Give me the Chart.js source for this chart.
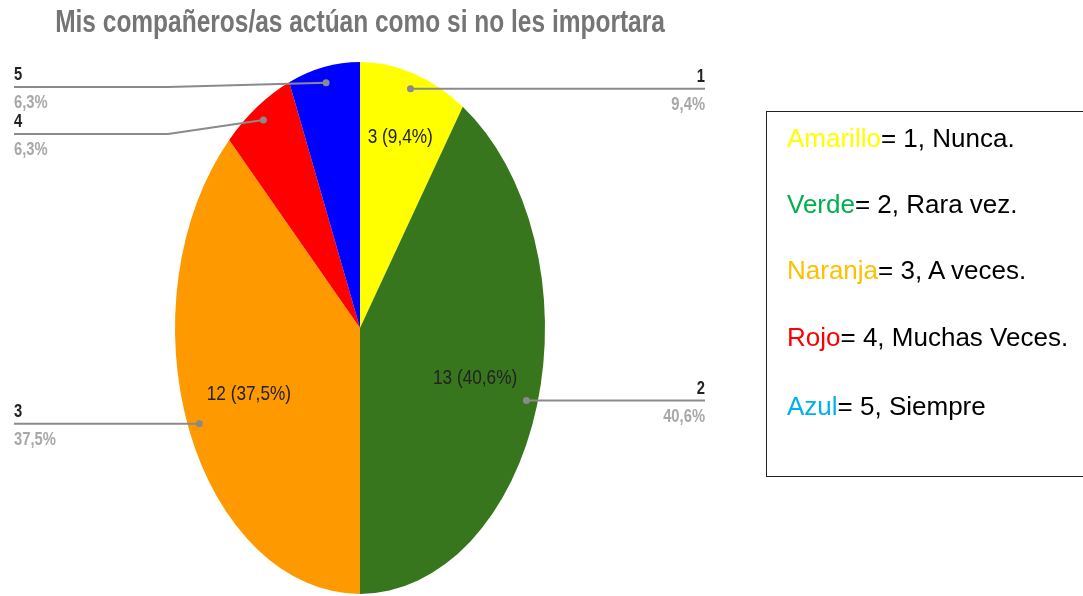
<!DOCTYPE html>
<html>
<head>
<meta charset="utf-8">
<script src="https://cdn.jsdelivr.net/npm/chart.js@4.4.0/dist/chart.umd.min.js"></script>
<style>
  body { margin: 0; background: #fff; overflow: hidden; }
  #wrap { position: absolute; left: 0; top: 0; width: 1083px; height: 596px; }
  #title {
    position: absolute; left: -100px; width: 920px; top: 4px; text-align: center;
    font-family: 'Liberation Sans', Arial, sans-serif;
    font-weight: bold; font-size: 31px; color: #757575;
    transform: scaleX(0.79); transform-origin: 460px 0; white-space: nowrap;
  }
  #legend {
    position: absolute; left: 766px; top: 111px; width: 330px; height: 366px;
    border: 1.5px solid #222; box-sizing: border-box;
    font-family: 'Liberation Sans', Arial, sans-serif; font-size: 26px; color: #000;
  }
  #legend div { position: absolute; left: 20px; white-space: nowrap; }
</style>
</head>
<body>
<div id="wrap"><canvas id="pie"></canvas></div>
<div id="title">Mis compañeros/as actúan como si no les importara</div>
<div id="legend">
  <div style="top:11px"><span style="color:#ffff00">Amarillo</span>= 1, Nunca.</div>
  <div style="top:77px"><span style="color:#00b050">Verde</span>= 2, Rara vez.</div>
  <div style="top:143px"><span style="color:#ffc000">Naranja</span>= 3, A veces.</div>
  <div style="top:210px"><span style="color:#ff0000">Rojo</span>= 4, Muchas Veces.</div>
  <div style="top:279px"><span style="color:#00b0f0">Azul</span>= 5, Siempre</div>
</div>
<script>
// Datos de la encuesta
const categorias = ['1', '2', '3', '4', '5'];
const respuestas = [3, 13, 12, 2, 2];
const colores = ['#ffff00', '#38761d', '#ff9900', '#ff0000', '#0000ff'];

const fuente = "'Liberation Sans', Arial, sans-serif";
const escalaX = 185 / 266; // la torta original está estirada verticalmente
const estrecho = 0.82;     // simula una fuente condensada

function formatoPct(v, total) {
    return (v / total * 100).toFixed(1).replace('.', ',') + '%';
}

// Escribe texto comprimido horizontalmente
function textoEstrecho(ctx, txt, x, y) {
    ctx.save();
    ctx.translate(x, y);
    ctx.scale(estrecho, 1);
    ctx.fillText(txt, 0, 0);
    ctx.restore();
}

// Aplana la torta horizontalmente
const elipse = {
    id: 'elipse',
    beforeDatasetsDraw(chart) {
        const ctx = chart.ctx;
        const cx = (chart.chartArea.left + chart.chartArea.right) / 2;
        ctx.save();
        ctx.translate(cx, 0);
        ctx.scale(escalaX, 1);
        ctx.translate(-cx, 0);
    },
    afterDatasetsDraw(chart) {
        chart.ctx.restore();
    }
};

// Etiquetas internas y líneas guía
const etiquetas = {
    id: 'etiquetas',
    afterDraw(chart, args, opts) {
        const ctx = chart.ctx;
        const meta = chart.getDatasetMeta(0);
        const total = respuestas.reduce((a, b) => a + b, 0);
        meta.data.forEach((arc, i) => {
            const p = arc.getProps(['x', 'y', 'startAngle', 'endAngle', 'outerRadius'], true);
            const rx = p.outerRadius * escalaX, ry = p.outerRadius;
            const mid = (p.startAngle + p.endAngle) / 2;
            const frac = respuestas[i] / total;

            // texto dentro del sector
            if (frac > 0.08) {
                const f = frac < 0.15 ? 0.75 : 0.65;
                const tx = p.x + Math.cos(mid) * rx * f;
                const ty = p.y + Math.sin(mid) * ry * f;
                ctx.save();
                ctx.font = '21px ' + fuente;
                ctx.fillStyle = '#222';
                ctx.textAlign = 'center';
                ctx.textBaseline = 'middle';
                textoEstrecho(ctx, respuestas[i] + ' (' + formatoPct(respuestas[i], total) + ')', tx, ty);
                ctx.restore();
            }

            // línea guía
            const g = opts.guias[i];
            const dx = p.x + Math.cos(mid) * rx * 0.94;
            const dy = p.y + Math.sin(mid) * ry * 0.94;
            const lineY = g.y !== undefined ? g.y : dy;
            const endX = g.lado === 'der' ? opts.derX : opts.izqX;

            ctx.save();
            ctx.strokeStyle = '#8a8a8a';
            ctx.fillStyle = '#8a8a8a';
            ctx.lineWidth = 2;
            ctx.beginPath();
            ctx.moveTo(dx, dy);
            if (g.y !== undefined) ctx.lineTo(opts.codoX, lineY);
            ctx.lineTo(endX, lineY);
            ctx.stroke();
            ctx.beginPath();
            ctx.arc(dx, dy, 3.5, 0, Math.PI * 2);
            ctx.fill();

            ctx.textAlign = g.lado === 'der' ? 'right' : 'left';
            ctx.textBaseline = 'alphabetic';
            ctx.font = 'bold 18px ' + fuente;
            ctx.fillStyle = '#222';
            textoEstrecho(ctx, categorias[i], endX, lineY - 7);
            ctx.font = 'bold 18px ' + fuente;
            ctx.fillStyle = '#a8a8a8';
            textoEstrecho(ctx, formatoPct(respuestas[i], total), endX, lineY + 21);
            ctx.restore();
        });
    }
};

new Chart(document.getElementById('pie'), {
    type: 'pie',
    data: {
        labels: categorias,
        datasets: [{
            data: respuestas,
            backgroundColor: colores,
            borderWidth: 0
        }]
    },
    options: {
        responsive: true,
        maintainAspectRatio: false,
        animation: false,
        layout: {
            padding: { top: 62, bottom: 2, left: 94, right: 457 }
        },
        plugins: {
            legend: { display: false },
            tooltip: { enabled: false },
            etiquetas: {
                derX: 705,
                izqX: 14,
                codoX: 168,
                guias: [
                    { lado: 'der' },
                    { lado: 'der' },
                    { lado: 'izq' },
                    { lado: 'izq', y: 134 },
                    { lado: 'izq', y: 87 }
                ]
            }
        }
    },
    plugins: [elipse, etiquetas]
});
</script>
</body>
</html>
